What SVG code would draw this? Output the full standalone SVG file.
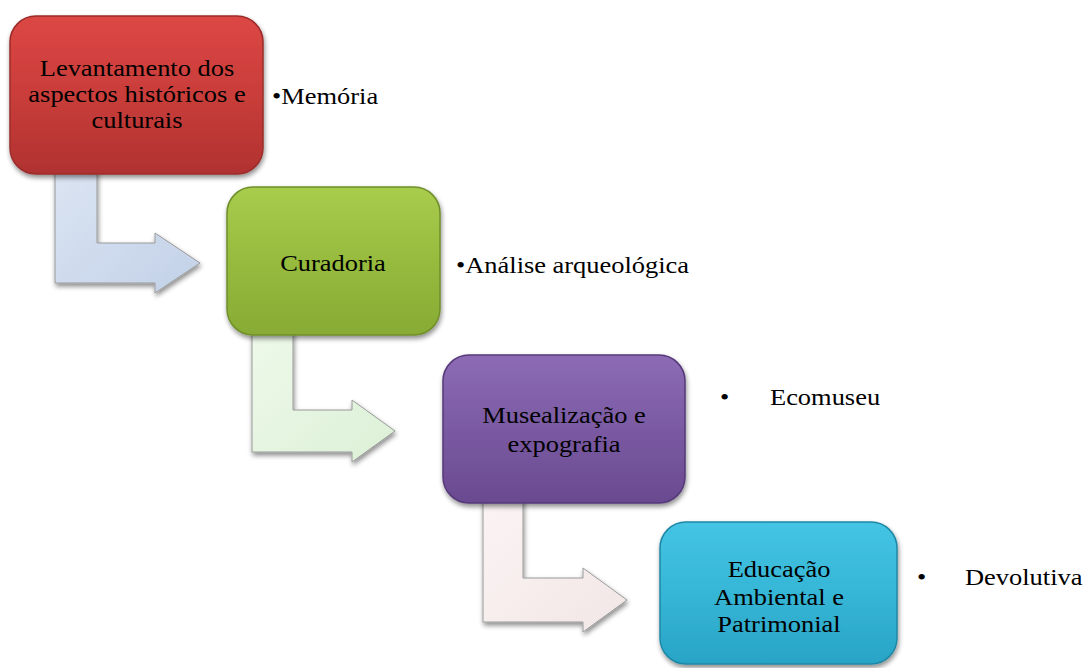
<svg xmlns="http://www.w3.org/2000/svg" width="1086" height="668" viewBox="0 0 1086 668">
<style>
.t{font-family:"Liberation Serif","Times New Roman",serif;font-size:23px;fill:#000}
.c{text-anchor:middle}
.box{stroke-width:1.5}
.arr{stroke:#9a9a9a;stroke-width:1}
.bev{fill:none;stroke:#ffffff;stroke-opacity:0.6;stroke-width:2}
</style>
<defs>
<filter id="sh" x="-20%" y="-20%" width="140%" height="140%">
<feGaussianBlur in="SourceAlpha" stdDeviation="2.5"/>
<feOffset dx="1" dy="3" result="b"/>
<feComponentTransfer><feFuncA type="linear" slope="0.45"/></feComponentTransfer>
<feMerge><feMergeNode/><feMergeNode in="SourceGraphic"/></feMerge>
</filter>
<linearGradient id="gRed" x1="0" y1="0" x2="0" y2="1"><stop offset="0" stop-color="#dc4744"/><stop offset="0.5" stop-color="#c93d3a"/><stop offset="1" stop-color="#b03230"/></linearGradient>
<linearGradient id="gGreen" x1="0" y1="0" x2="0" y2="1"><stop offset="0" stop-color="#a8cc4c"/><stop offset="0.5" stop-color="#97bb3e"/><stop offset="1" stop-color="#87ab34"/></linearGradient>
<linearGradient id="gPurple" x1="0" y1="0" x2="0" y2="1"><stop offset="0" stop-color="#8c6cb4"/><stop offset="0.5" stop-color="#7a5aa2"/><stop offset="1" stop-color="#6a4a90"/></linearGradient>
<linearGradient id="gCyan" x1="0" y1="0" x2="0" y2="1"><stop offset="0" stop-color="#45c4e4"/><stop offset="0.5" stop-color="#36b6d6"/><stop offset="1" stop-color="#28a4c6"/></linearGradient>
<linearGradient id="aBlue" x1="0" y1="0" x2="1" y2="1"><stop offset="0" stop-color="#dbe4f2"/><stop offset="1" stop-color="#c2d1e8"/></linearGradient>
<linearGradient id="aGreen" x1="0" y1="0" x2="1" y2="1"><stop offset="0" stop-color="#eef9ea"/><stop offset="1" stop-color="#dcf0d6"/></linearGradient>
<linearGradient id="aPink" x1="0" y1="0" x2="1" y2="1"><stop offset="0" stop-color="#fbf4f4"/><stop offset="1" stop-color="#f2e6e6"/></linearGradient>
</defs>

<g id="connectors">
<path class="arr" filter="url(#sh)" fill="url(#aBlue)" d="M55,170 L97,170 L97,243 L155,243 L155,233 L200,263 L155,293 L155,283 L55,283 Z"/>
<path class="arr" filter="url(#sh)" fill="url(#aGreen)" d="M252,330 L293,330 L293,410 L352,410 L352,400 L395,431 L352,462 L352,452 L252,452 Z"/>
<path class="arr" filter="url(#sh)" fill="url(#aPink)" d="M483,498 L523,498 L523,578 L583,578 L583,568 L627,600 L583,632 L583,622 L483,622 Z"/>
</g>

<g id="node1">
<rect class="box" filter="url(#sh)" x="10" y="16" width="253" height="158" rx="26" fill="url(#gRed)" stroke="#9c2c2a"/>
<g transform="translate(137,0) scale(1.15,1)">
<text class="t c" x="0" y="76">Levantamento dos</text>
<text class="t c" x="0" y="102">aspectos históricos e</text>
<text class="t c" x="0" y="128">culturais</text>
</g>
</g>
<g id="label1" transform="translate(272,0) scale(1.15,1)"><text class="t" x="0" y="104">•Memória</text></g>

<g id="node2">
<rect class="box" filter="url(#sh)" x="227" y="187" width="213" height="148" rx="26" fill="url(#gGreen)" stroke="#6f8f2a"/>
<g transform="translate(333,0) scale(1.15,1)"><text class="t c" x="0" y="271">Curadoria</text></g>
</g>
<g id="label2" transform="translate(456,0) scale(1.15,1)"><text class="t" x="0" y="273">•Análise arqueológica</text></g>

<g id="node3">
<rect class="box" filter="url(#sh)" x="443" y="355" width="242" height="148" rx="26" fill="url(#gPurple)" stroke="#56387a"/>
<g transform="translate(564,0) scale(1.15,1)">
<text class="t c" x="0" y="423">Musealização e</text>
<text class="t c" x="0" y="452">expografia</text>
</g>
</g>
<g id="label3">
<g transform="translate(720,0) scale(1.15,1)"><text class="t" x="0" y="405">•</text></g>
<g transform="translate(770,0) scale(1.15,1)"><text class="t" x="0" y="405">Ecomuseu</text></g>
</g>

<g id="node4">
<rect class="box" filter="url(#sh)" x="660" y="522" width="237" height="142" rx="26" fill="url(#gCyan)" stroke="#1f88a6"/>
<g transform="translate(779,0) scale(1.15,1)">
<text class="t c" x="0" y="577">Educação</text>
<text class="t c" x="0" y="605">Ambiental e</text>
<text class="t c" x="0" y="632">Patrimonial</text>
</g>
</g>
<g id="label4">
<g transform="translate(917,0) scale(1.15,1)"><text class="t" x="0" y="585">•</text></g>
<g transform="translate(965,0) scale(1.15,1)"><text class="t" x="0" y="585">Devolutiva</text></g>
</g>
</svg>
